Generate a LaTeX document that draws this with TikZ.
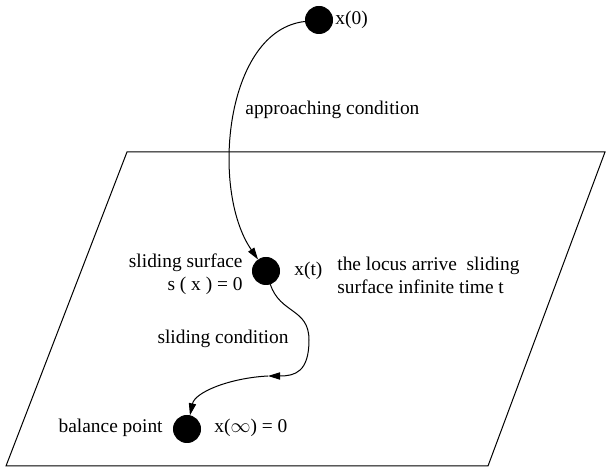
\documentclass[tikz,border=0pt]{standalone}
\usepackage{fontspec}
\setmainfont{Liberation Serif}
\usepackage{tikz}
\usetikzlibrary{arrows.meta,positioning}

\begin{document}
\begin{tikzpicture}[
    x=0.5pt, y=-0.5pt,
    font=\fontsize{9.7}{11.6}\selectfont,
    dot/.style={circle, fill=black, draw=black, minimum size=13.6pt, inner sep=0pt},
    lbl/.style={inner sep=0pt, align=left},
    arrow/.style={-{Triangle[length=6pt,width=3.6pt]}, line width=0.5pt},
    plane/.style={draw, line width=0.5pt}
]
\useasboundingbox (0,0) rectangle (606,469);

% ---- sliding plane ----
\draw[plane] (127,152) -- (605,152) -- (488,466) -- (6,466) -- cycle;

% ---- state points ----
\node[dot] (x0) at (319,20) {};
\node[dot] (xt) at (266,271) {};
\node[dot] (bal) at (187,429) {};
\coordinate (mid) at (268,376);

% ---- labels ----
\node[lbl, anchor=west] (lx0) at (335,20) {x(0)};
\node[lbl, anchor=west] (lappr) at (245,110) {approaching condition};
\node[lbl, anchor=east, align=right] (lsurf) at (243,274) {sliding surface\\s ( x ) = 0};
\node[lbl, anchor=west] (lxt) at (294,271) {x(t)};
\node[lbl, anchor=west] (llocus) at (337,275) {the locus arrive~ sliding\\surface infinite time t};
\node[lbl] (lslide) at (223,339) {sliding condition};
\node[lbl, anchor=east] (lbal) at (163,428) {balance point};
\node[lbl, anchor=west] (linf) at (214,428) {x($\infty$) = 0};

% ---- trajectories ----
\draw[arrow] (x0) .. controls (225,30) and (210,190) .. (xt);
\draw[arrow] (xt) .. controls (280,314) and (309,308) .. (309,340)
    .. controls (309,372) and (295,376) .. (mid);
\draw[arrow] (mid) .. controls (230,378) and (195,392) .. (bal);

\end{tikzpicture}
\end{document}
